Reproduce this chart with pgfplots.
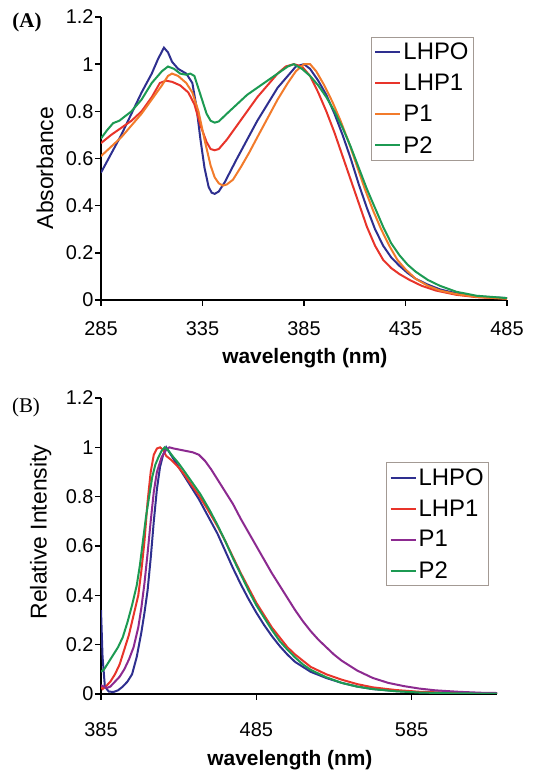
\documentclass[border=0pt]{standalone}
\usepackage{fontspec}
\setmainfont{Liberation Sans}
\newfontfamily\panelfont{Liberation Serif}
\usepackage{pgfplots}
\pgfplotsset{compat=1.18}

\definecolor{cBlue}{HTML}{2E2F8F}
\definecolor{cRed}{HTML}{E8342A}
\definecolor{cOrange}{HTML}{F27B2B}
\definecolor{cGreen}{HTML}{1C9A52}
\definecolor{cPurple}{HTML}{8C2A90}
\definecolor{legbox}{HTML}{A39A94}

\pgfplotsset{
  spec/.style={
    scale only axis,
    axis x line*=bottom, axis y line*=left,
    axis line style={line width=1.4bp, black},
    tick align=outside,
    major tick length=6bp,
    tick style={line width=1.4bp, black},
    ymin=0, ymax=1.2, ytick={0,0.2,0.4,0.6,0.8,1,1.2},
    /pgf/number format/assume math mode=true,
    /pgf/number format/fixed,
    ticklabel style={font=\fontsize{20}{23}\selectfont},
    yticklabel style={xshift=2bp},
    ylabel style={font=\fontsize{23}{26}\selectfont, anchor=center},
    xlabel style={font=\bfseries\fontsize{21}{24}\selectfont, anchor=center},
    legend cell align=left,
    legend style={draw=legbox, line width=1bp, fill=white,
      font=\fontsize{24}{27}\selectfont, inner xsep=3bp, inner ysep=4bp,
      row sep=9bp, anchor=north west},
    legend image code/.code={\draw[#1] (0bp,0bp) -- (25bp,0bp);},
    every axis plot/.append style={line width=2bp},
  }
}

\begin{document}
\begin{tikzpicture}[x=1bp,y=1bp]
\useasboundingbox (0,0) rectangle (536,772);

% (A) absorbance
\begin{axis}[spec,
  at={(101bp,472bp)}, anchor=south west,
  width=406bp, height=283bp,
  xmin=285, xmax=485, xtick={285,335,385,435,485},
  xticklabel style={yshift=-12bp},
  xlabel={wavelength (nm)}, ylabel={Absorbance},
  xlabel style={at={(axis description cs:0.502,-0.205)}},
  ylabel style={at={(axis description cs:-0.138,0.466)}},
  legend style={at={(axis description cs:0.665,0.93)}},
]
\addplot[cBlue] coordinates {
(285,0.54) (290,0.62) (295,0.70) (300,0.79) (305,0.88) (310,0.96) (313,1.02)
(316,1.07) (318,1.05) (320,1.01) (323,0.98) (327,0.96) (330,0.92) (332,0.82)
(334,0.68) (336,0.56) (338,0.48) (339.5,0.455) (341,0.45) (343,0.46) (346,0.50)
(352,0.60) (357,0.68) (362,0.76) (367,0.83) (372,0.90) (377,0.95) (381,0.99)
(385,1.0) (388,0.98) (392,0.93) (396,0.87) (400,0.79) (404,0.70) (408,0.60)
(412,0.49) (416,0.39) (420,0.30) (424,0.23) (428,0.18) (432,0.145) (436,0.115)
(440,0.09) (446,0.065) (452,0.045) (460,0.028) (470,0.015) (485,0.008)
};
\addlegendentry{LHPO}
\addplot[cRed] coordinates {
(285,0.665) (290,0.70) (295,0.73) (300,0.76) (305,0.80) (310,0.86) (314,0.92)
(317,0.93) (320,0.925) (324,0.91) (328,0.88) (331,0.83) (334,0.74) (337,0.67)
(339,0.64) (341,0.635) (343,0.64) (347,0.68) (352,0.74) (357,0.80) (362,0.86)
(367,0.91) (372,0.96) (376,0.99) (380,1.0) (384,0.99) (388,0.95) (392,0.88)
(396,0.80) (400,0.71) (404,0.61) (408,0.51) (412,0.41) (416,0.31) (420,0.23)
(424,0.17) (428,0.135) (432,0.11) (437,0.085) (443,0.06) (450,0.04)
(460,0.022) (470,0.012) (485,0.006)
};
\addlegendentry{LHP1}
\addplot[cOrange] coordinates {
(285,0.61) (290,0.65) (295,0.69) (300,0.74) (305,0.79) (310,0.85) (315,0.91)
(318,0.95) (320,0.96) (323,0.95) (327,0.92) (330,0.88) (333,0.80) (336,0.68)
(339,0.57) (341,0.52) (343,0.495) (345,0.485) (347,0.49) (350,0.51) (354,0.565)
(358,0.625) (362,0.69) (367,0.77) (372,0.85) (377,0.92) (381,0.97) (385,1.0)
(388,1.0) (391,0.97) (395,0.91) (399,0.84) (403,0.76) (407,0.67) (411,0.57)
(415,0.47) (419,0.38) (423,0.30) (427,0.23) (431,0.17) (435,0.13) (440,0.09)
(446,0.06) (452,0.04) (460,0.025) (470,0.013) (485,0.005)
};
\addlegendentry{P1}
\addplot[cGreen] coordinates {
(285,0.685) (288,0.72) (291,0.75) (294,0.76) (297,0.78) (300,0.80) (305,0.85)
(310,0.92) (315,0.97) (318,0.99) (321,0.98) (324,0.96) (327,0.955) (329,0.96)
(331,0.95) (334,0.87) (337,0.79) (339,0.76) (341,0.752) (343,0.757) (347,0.79)
(352,0.83) (357,0.87) (362,0.90) (367,0.93) (372,0.96) (377,0.99) (380,1.0)
(384,0.98) (388,0.95) (392,0.91) (396,0.86) (400,0.80) (404,0.73) (408,0.65)
(412,0.56) (416,0.47) (420,0.39) (424,0.31) (428,0.24) (432,0.19) (436,0.15)
(440,0.12) (446,0.085) (452,0.06) (460,0.035) (470,0.018) (485,0.008)
};
\addlegendentry{P2}
\end{axis}
\node[font=\panelfont\bfseries\fontsize{21}{24}\selectfont] at (27,750) {(A)};

% (B) emission
\begin{axis}[spec,
  at={(101bp,78bp)}, anchor=south west,
  width=396bp, height=296bp,
  xmin=385, xmax=640, xtick={385,485,585},
  xticklabel style={yshift=-19bp},
  xlabel={wavelength (nm)}, ylabel={Relative Intensity},
  xlabel style={at={(axis description cs:0.477,-0.222)}},
  ylabel style={at={(axis description cs:-0.152,0.547)}},
  legend style={at={(axis description cs:0.72,0.784)}},
]
\addplot[cBlue] coordinates {
(385,0.34) (386,0.15) (387.5,0.03) (390,0.01) (393,0.008) (396,0.015) (399,0.03)
(402,0.05) (405,0.08) (408,0.15) (411,0.25) (413,0.33) (415,0.42) (417,0.55)
(419,0.70) (421,0.83) (423,0.92) (425,0.97) (427,1.0) (430,0.97) (434,0.93)
(438,0.89) (443,0.84) (448,0.79) (454,0.72) (460,0.65) (465,0.58) (470,0.51)
(475,0.445) (480,0.385) (485,0.33) (490,0.28) (495,0.235) (500,0.195)
(505,0.16) (510,0.13) (515,0.11) (520,0.09) (530,0.065) (540,0.045)
(550,0.03) (560,0.02) (575,0.012) (590,0.007) (610,0.004) (640,0.002)
};
\addlegendentry{LHPO}
\addplot[cRed] coordinates {
(385,0.03) (386,0.02) (388,0.03) (391,0.05) (394,0.08) (397,0.12) (400,0.18)
(403,0.24) (406,0.32) (409,0.40) (411,0.50) (413,0.62) (415,0.78) (417,0.90)
(419,0.97) (421,0.995) (423,1.0) (425,0.99) (427,0.965) (430,0.95) (434,0.925)
(438,0.895) (443,0.85) (448,0.805) (454,0.745) (460,0.68) (465,0.62)
(470,0.555) (475,0.49) (480,0.43) (485,0.37) (490,0.32) (495,0.27) (500,0.23)
(505,0.19) (510,0.16) (515,0.135) (520,0.11) (530,0.08) (540,0.058)
(550,0.04) (560,0.027) (575,0.016) (590,0.009) (610,0.005) (640,0.002)
};
\addlegendentry{LHP1}
\addplot[cPurple] coordinates {
(385,0.035) (387,0.03) (389,0.025) (391,0.03) (394,0.05) (397,0.07) (400,0.10)
(403,0.14) (406,0.19) (409,0.27) (411,0.35) (413,0.45) (415,0.57) (417,0.70)
(419,0.82) (421,0.90) (424,0.96) (427,0.99) (429,1.0) (432,0.995) (436,0.99)
(440,0.985) (444,0.98) (448,0.97) (452,0.945) (456,0.91) (460,0.87) (465,0.82)
(470,0.77) (475,0.71) (480,0.655) (485,0.6) (490,0.545) (495,0.49) (500,0.44)
(505,0.39) (510,0.34) (515,0.295) (520,0.255) (525,0.22) (530,0.19)
(535,0.16) (540,0.135) (550,0.095) (560,0.065) (570,0.045) (580,0.032)
(590,0.022) (600,0.015) (615,0.009) (630,0.005) (640,0.004)
};
\addlegendentry{P1}
\addplot[cGreen] coordinates {
(385,0.09) (387,0.10) (390,0.13) (393,0.16) (396,0.19) (399,0.23) (402,0.29)
(405,0.36) (408,0.44) (410,0.52) (412,0.62) (414,0.72) (416,0.80) (418,0.88)
(420,0.93) (422,0.96) (424,0.985) (426,1.0) (428,0.99) (431,0.965) (435,0.935)
(439,0.90) (444,0.855) (449,0.81) (455,0.745) (460,0.685) (465,0.62)
(470,0.55) (475,0.485) (480,0.42) (485,0.36) (490,0.31) (495,0.26) (500,0.215)
(505,0.18) (510,0.148) (515,0.12) (520,0.098) (530,0.068) (540,0.045)
(550,0.03) (560,0.02) (575,0.011) (590,0.006) (610,0.003) (640,0.001)
};
\addlegendentry{P2}
\end{axis}
\node[font=\panelfont\fontsize{21}{24}\selectfont] at (26,365) {(B)};
\end{tikzpicture}
\end{document}
